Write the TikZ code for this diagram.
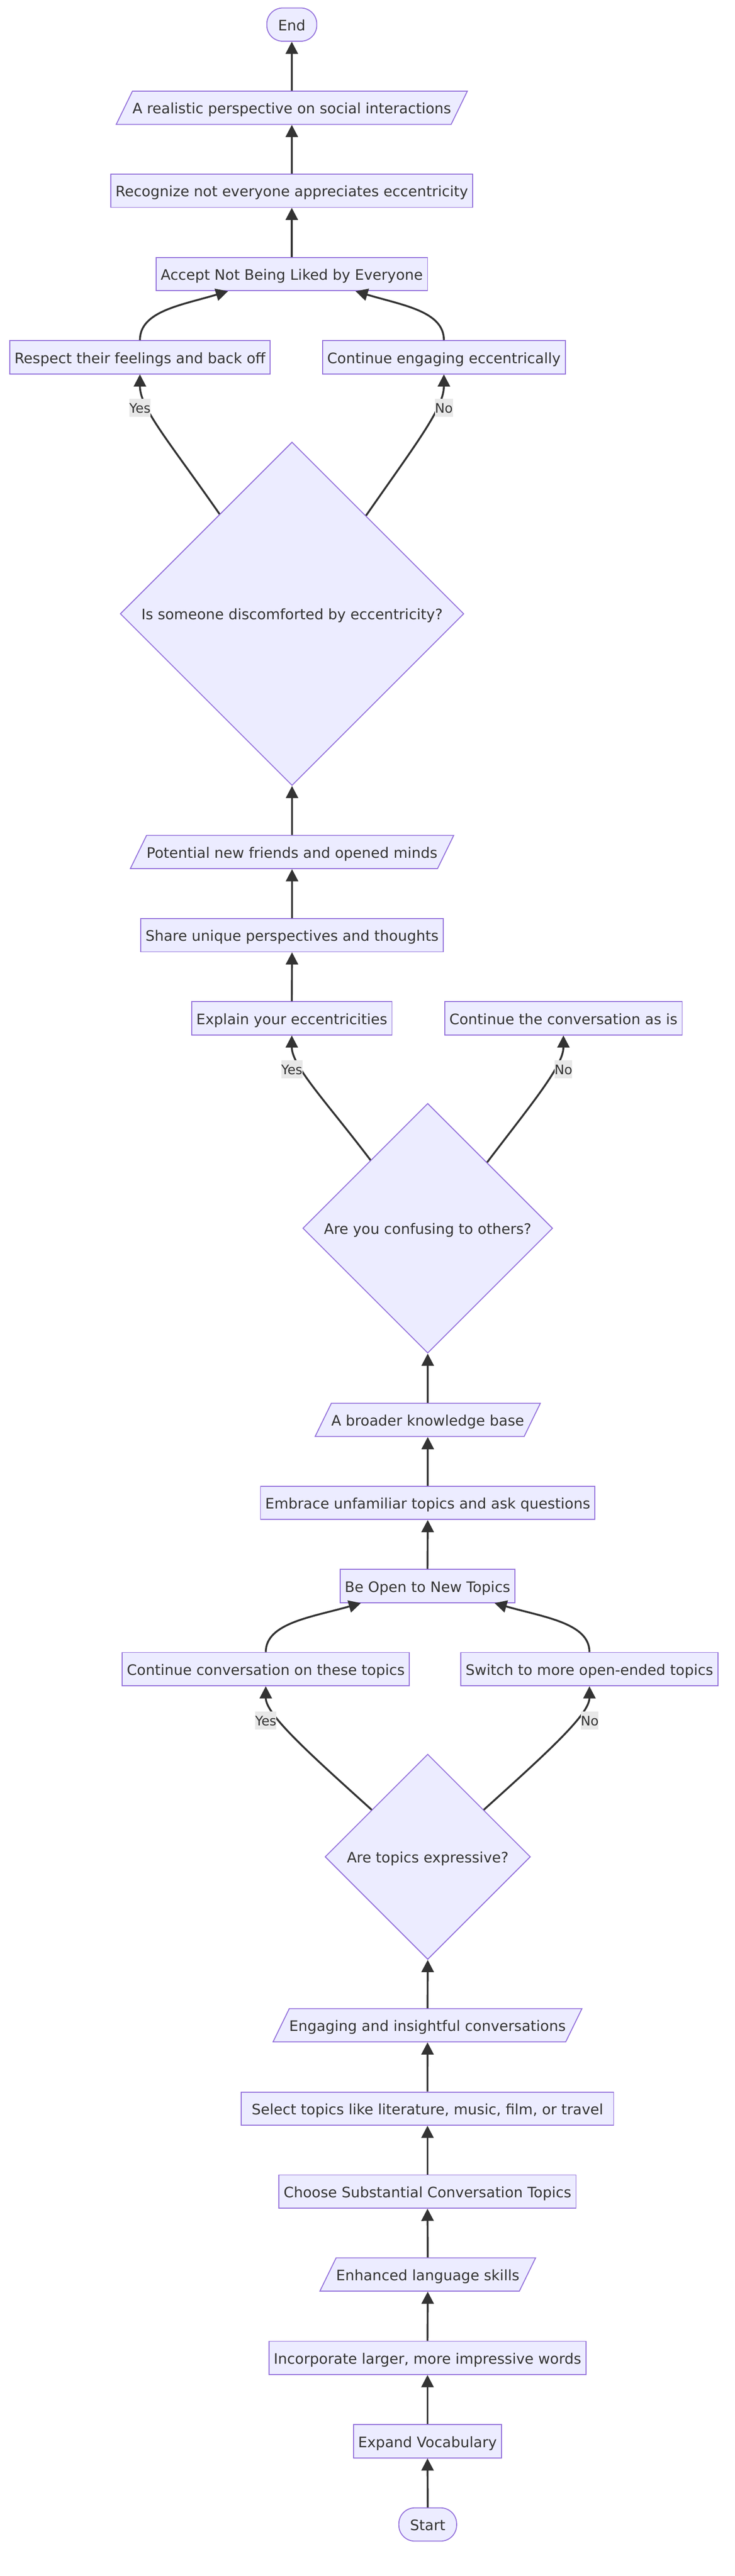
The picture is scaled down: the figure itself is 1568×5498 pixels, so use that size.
\documentclass[tikz,border=0pt]{standalone}
\usepackage{fontspec}
\setmainfont{DejaVu Sans}
\usetikzlibrary{shapes.geometric,arrows.meta}
\definecolor{nodefill}{HTML}{ECECFF}
\definecolor{nodeline}{HTML}{9370DB}
\definecolor{edgeline}{HTML}{333333}
\definecolor{lblfill}{HTML}{E8E8E8}
\definecolor{textc}{HTML}{333333}
\tikzset{>={Triangle[length=13pt,width=13pt]}}
\tikzset{
  base/.style={draw=nodeline, fill=nodefill, line width=1pt, text=textc,
    font=\fontsize{15.4}{18}\selectfont, inner ysep=0pt,
    text height=24.15pt, text depth=11.35pt},
  procbox/.style={base, rectangle, inner xsep=5pt},
  iobox/.style={base, trapezium, trapezium left angle=64,
    trapezium right angle=116, inner xsep=0pt},
  terminal/.style={base, rectangle, rounded corners=17pt, inner xsep=12pt},
  decision/.style={base, diamond, aspect=1, inner sep=0pt},
  lbl/.style={fill=lblfill, text=textc, font=\fontsize{14}{16}\selectfont,
    inner xsep=0pt, inner ysep=0pt, text height=15.3pt, text depth=4.15pt},
  flow/.style={->, draw=edgeline, line width=2pt},
}

\begin{document}
\begin{tikzpicture}[x=0.5pt,y=-0.5pt]
        \useasboundingbox (0,0) rectangle (1568,5498);
        % upper column
        \node[terminal] (end) at (622.5,52.5) {End};
        \node[iobox] (realist) at (622.5,230) {A realistic perspective on social interactions};
        \node[procbox] (recog) at (622.5,407) {Recognize not everyone appreciates eccentricity};
        \node[procbox] (accept) at (622.5,585) {Accept Not Being Liked by Everyone};
        \node[procbox] (respect) at (298.5,762.5) {Respect their feelings and back off};
        \node[procbox] (engage) at (947,762.5) {Continue engaging eccentrically};
        \node[decision, minimum width=366.5pt, minimum height=366.5pt] (discomf) at (623,1310) {Is someone discomforted by eccentricity?};
        \node[iobox] (friends) at (623,1818.5) {Potential new friends and opened minds};
        \node[procbox] (share) at (623,1996) {Share unique perspectives and thoughts};
        \node[procbox] (explain) at (622.5,2173.5) {Explain your eccentricities};
        \node[procbox] (asis) at (1202,2173.5) {Continue the conversation as is};
        % lower column
        \node[decision, minimum width=266.5pt, minimum height=266.5pt] (confuse) at (912.5,2621.5) {Are you confusing to others?};
        \node[iobox] (broader) at (912.5,3030.5) {A broader knowledge base};
        \node[procbox] (embrace) at (912.5,3207.5) {Embrace unfamiliar topics and ask questions};
        \node[procbox] (opentop) at (912,3385) {Be Open to New Topics};
        \node[procbox] (sametop) at (567,3562.5) {Continue conversation on these topics};
        \node[procbox] (switch) at (1257.5,3562.5) {Switch to more open-ended topics};
        \node[decision, minimum width=219pt, minimum height=219pt] (express) at (912.5,3963) {Are topics expressive?};
        \node[iobox] (insight) at (912,4322.5) {Engaging and insightful conversations};
        \node[procbox, minimum width=397pt] (select) at (912,4500.5) {Select topics like literature, music, film, or travel};
        \node[procbox] (choose) at (912,4677.5) {Choose Substantial Conversation Topics};
        \node[iobox] (enhanced) at (912.5,4854.5) {Enhanced language skills};
        \node[procbox] (incorp) at (912,5032.5) {Incorporate larger, more impressive words};
        \node[procbox] (expand) at (912,5210.5) {Expand Vocabulary};
        \node[terminal] (start) at (912.5,5388) {Start};

        \foreach \a/\b in {start/expand, expand/incorp, incorp/enhanced, enhanced/choose,
            choose/select, select/insight, insight/express, opentop/embrace, embrace/broader,
            broader/confuse, explain/share, share/friends, friends/discomf,
            accept/recog, recog/realist, realist/end}
            \draw[flow] (\a.north) -- (\b.south);

	\draw[flow] (express.140) .. controls +(-134,-121) and +(0,60) .. (sametop.south);
	\draw[flow] (express.40) .. controls +(134,-121) and +(0,60) .. (switch.south);
	\draw[flow] (sametop.north) .. controls +(0,-62) and +(-105,30) .. ([xshift=-71pt]opentop.south);
	\draw[flow] (switch.north) .. controls +(0,-62) and +(105,30) .. ([xshift=71.5pt]opentop.south);
	\draw[flow] (confuse.130.5) .. controls +(-94,-124) and +(0,65) .. (explain.south);
	\draw[flow] (confuse.48.8) .. controls +(94,-124) and +(0,65) .. (asis.south);
	\draw[flow] (discomf.126.5) .. controls +(-107,-154) and +(0,72) .. (respect.south);
	\draw[flow] (discomf.53.5) .. controls +(107,-154) and +(0,72) .. (engage.south);
	\draw[flow] (respect.north) .. controls +(0,-62) and +(-100,30) .. ([xshift=-68pt]accept.south);
	\draw[flow] (engage.north) .. controls +(0,-62) and +(100,30) .. ([xshift=68pt]accept.south);

        \node[lbl] (yes1) at (298.5,870.5) {Yes};
        \node[lbl] (no1) at (947,870.5) {No};
        \node[lbl] (yes2) at (622.5,2282) {Yes};
        \node[lbl] (no2) at (1202,2282) {No};
        \node[lbl] (yes3) at (567,3672) {Yes};
        \node[lbl] (no3) at (1258,3672) {No};
    \end{tikzpicture}
\end{document}
